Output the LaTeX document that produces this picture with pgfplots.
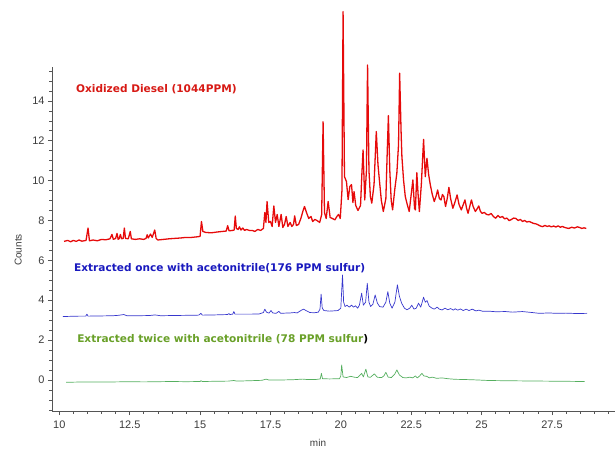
\documentclass[border=0pt]{standalone}
\usepackage{pgfplots}
\pgfplotsset{compat=1.18}
\usepackage{fontspec}
\setmainfont{Liberation Sans}
\newfontfamily\annfont{DejaVu Sans}

\definecolor{cred}{RGB}{230,10,10}
\definecolor{cblue}{RGB}{55,55,205}
\definecolor{cgreen}{RGB}{85,175,95}
\definecolor{tred}{RGB}{215,25,20}
\definecolor{tblue}{RGB}{25,25,190}
\definecolor{tgreen}{RGB}{105,160,40}
\definecolor{axgray}{RGB}{85,85,85}
\definecolor{labgray}{RGB}{60,60,60}

\begin{document}
\begin{tikzpicture}
\path[use as bounding box] (-52bp,-40bp) rectangle (564bp,411bp);
\begin{axis}[
  scale only axis, width=563bp, height=344bp,
  anchor=south west, at={(0,0)},
  xmin=9.74, xmax=29.74, ymin=-1.56, ymax=15.7,
  clip=false,
  axis x line=bottom, axis y line=left,
  axis line style={-, axgray, line width=0.8pt},
  tick align=outside,
  major tick length=4bp, minor tick length=2.5bp,
  every tick/.style={axgray, line width=0.6pt},
  xtick={10,12.5,15,17.5,20,22.5,25,27.5},
  xticklabels={10,12.5,15,17.5,20,22.5,25,27.5},
  minor xtick={10,10.5,...,29.5},
  ytick={0,2,...,14},
  minor ytick={-1.5,-1,...,15.5},
  /pgf/number format/assume math mode=true,
  tick label style={font=\fontsize{11}{13}\selectfont, text=labgray},
  xticklabel style={yshift=-2bp},
  ylabel={Counts}, xlabel={min},
  label style={font=\fontsize{10}{12}\selectfont, text=labgray},
  ylabel style={at={(axis description cs:-0.060,0.468)}, anchor=center},
  xlabel style={at={(axis description cs:0.4725,-0.093)}, anchor=center},
]
% oxidized diesel
\addplot[cred, line width=1.3pt, line join=round] coordinates {
(10.17,6.95) (10.3,7.0) (10.4,6.93) (10.5,7.0) (10.6,6.95) (10.7,7.02) (10.8,6.96)
(10.95,7.0) (11.02,7.62) (11.07,6.98) (11.2,7.02) (11.35,6.98) (11.5,7.05) (11.65,7.03)
(11.8,7.08) (11.87,7.3) (11.92,7.05) (12.0,7.1) (12.05,7.35) (12.09,7.05) (12.13,7.1)
(12.17,7.3) (12.21,7.08) (12.27,7.1) (12.31,7.62) (12.35,7.1) (12.45,7.08) (12.52,7.45)
(12.56,7.08) (12.7,7.05) (12.85,7.08) (13.0,7.05) (13.08,7.1) (13.12,7.28) (13.16,7.12)
(13.24,7.32) (13.3,7.15) (13.39,7.52) (13.44,7.1) (13.5,7.02) (13.7,7.05) (13.9,7.08)
(14.1,7.1) (14.3,7.12) (14.5,7.15) (14.7,7.15) (14.9,7.18) (15.0,7.2) (15.05,7.95)
(15.1,7.45) (15.2,7.4) (15.4,7.38) (15.6,7.42) (15.8,7.45) (15.93,7.47) (15.98,7.74)
(16.03,7.48) (16.15,7.5) (16.21,7.52) (16.25,8.22) (16.29,7.6) (16.35,7.55) (16.4,7.68)
(16.45,7.52) (16.52,7.62) (16.58,7.5) (16.65,7.55) (16.75,7.5) (16.85,7.5) (16.95,7.45)
(17.05,7.55) (17.15,7.5) (17.25,7.6) (17.3,8.4) (17.34,7.9) (17.38,8.95) (17.44,7.9)
(17.5,7.95) (17.56,7.7) (17.62,8.73) (17.68,7.9) (17.74,8.3) (17.8,7.7) (17.88,8.3)
(17.94,7.65) (18.0,7.8) (18.06,8.2) (18.12,7.7) (18.2,7.9) (18.26,7.7) (18.32,7.8)
(18.36,8.23) (18.42,7.75) (18.5,7.8) (18.58,8.1) (18.66,8.5) (18.71,8.7) (18.78,8.4)
(18.86,8.1) (18.94,8.2) (19.0,7.95) (19.08,8.05) (19.15,8.0) (19.25,7.9) (19.32,8.3)
(19.37,12.95) (19.42,8.4) (19.48,8.1) (19.55,8.95) (19.62,8.15) (19.7,8.1) (19.79,8.03)
(19.86,8.2) (19.92,8.3) (19.98,8.1) (20.04,9.5) (20.08,18.48) (20.13,10.2) (20.2,9.95)
(20.26,9.05) (20.32,9.7) (20.38,9.8) (20.43,8.9) (20.47,9.45) (20.53,8.75) (20.61,8.5)
(20.7,8.75) (20.75,10.4) (20.79,11.54) (20.85,9.03) (20.91,10.5) (20.95,15.8) (21.0,10.5)
(21.05,9.2) (21.1,8.87) (21.18,9.8) (21.26,12.46) (21.32,10.8) (21.37,10.03) (21.44,9.0)
(21.51,8.45) (21.6,9.1) (21.65,11.5) (21.69,13.26) (21.74,10.5) (21.79,9.0) (21.84,8.53)
(21.92,9.6) (21.99,10.37) (22.05,11.8) (22.09,15.39) (22.14,12.5) (22.17,11.2) (22.23,10.0)
(22.29,9.2) (22.36,8.8) (22.43,8.45) (22.5,9.3) (22.56,10.03) (22.62,8.6) (22.65,8.53)
(22.7,10.4) (22.75,9.2) (22.79,8.45) (22.86,9.8) (22.94,12.07) (23.0,10.2) (23.06,11.12)
(23.12,10.3) (23.18,9.78) (23.25,9.3) (23.32,8.95) (23.38,9.2) (23.44,9.53) (23.5,9.1)
(23.56,9.03) (23.61,9.3) (23.66,9.2) (23.72,8.7) (23.78,9.1) (23.84,9.66) (23.9,9.1)
(23.98,8.61) (24.05,8.9) (24.13,9.28) (24.2,8.8) (24.28,8.53) (24.35,8.8) (24.41,9.03)
(24.47,8.6) (24.52,8.36) (24.58,8.7) (24.64,9.03) (24.7,8.7) (24.78,8.45) (24.85,8.6)
(24.9,8.73) (24.96,8.45) (25.02,8.36) (25.1,8.4) (25.18,8.3) (25.26,8.28) (25.34,8.35)
(25.42,8.2) (25.5,8.11) (25.58,8.25) (25.66,8.15) (25.74,8.2) (25.82,8.08) (25.9,8.12)
(25.98,7.99) (26.06,8.05) (26.14,8.12) (26.22,8.1) (26.3,8.0) (26.38,8.05) (26.45,7.95)
(26.53,8.0) (26.61,7.92) (26.69,7.95) (26.77,7.9) (26.85,7.85) (26.93,7.83) (27.01,7.78)
(27.09,7.72) (27.17,7.69) (27.25,7.75) (27.33,7.7) (27.4,7.73) (27.48,7.68) (27.56,7.72)
(27.64,7.67) (27.72,7.73) (27.8,7.66) (27.87,7.7) (27.95,7.65) (28.03,7.62) (28.1,7.6)
(28.2,7.66) (28.3,7.62) (28.4,7.68) (28.48,7.65) (28.56,7.6) (28.64,7.63) (28.72,7.6)
};
% extracted once
\addplot[cblue, line width=0.7pt, line join=round] coordinates {
(10.13,3.18) (10.4,3.19) (10.7,3.2) (10.94,3.2) (10.98,3.3) (11.02,3.2) (11.5,3.21)
(11.9,3.22) (12.1,3.24) (12.29,3.28) (12.4,3.22) (12.8,3.22) (13.2,3.23) (13.4,3.26)
(13.6,3.22) (14.0,3.23) (14.5,3.24) (14.95,3.25) (15.03,3.34) (15.08,3.25) (15.5,3.26)
(15.98,3.28) (16.02,3.33) (16.06,3.28) (16.16,3.3) (16.2,3.43) (16.24,3.3) (16.5,3.3)
(16.8,3.3) (17.1,3.31) (17.25,3.38) (17.3,3.55) (17.36,3.4) (17.45,3.35) (17.52,3.48)
(17.58,3.36) (17.7,3.34) (17.8,3.44) (17.86,3.34) (18.0,3.35) (18.2,3.36) (18.35,3.38)
(18.45,3.36) (18.6,3.5) (18.68,3.55) (18.76,3.48) (18.9,3.38) (19.07,3.37) (19.2,3.4)
(19.26,3.55) (19.3,4.3) (19.34,3.6) (19.4,3.48) (19.6,3.45) (19.9,3.48) (20.0,3.6)
(20.06,5.27) (20.1,3.9) (20.15,3.68) (20.22,3.75) (20.3,3.65) (20.38,3.75) (20.45,3.65)
(20.52,3.72) (20.6,3.6) (20.66,3.75) (20.74,4.35) (20.8,3.75) (20.88,3.9) (20.94,4.85)
(21.0,3.9) (21.06,3.68) (21.14,3.8) (21.22,4.26) (21.3,3.85) (21.38,3.68) (21.5,3.65)
(21.6,3.9) (21.67,4.43) (21.74,3.85) (21.82,3.6) (21.92,3.9) (22.01,4.77) (22.08,4.2)
(22.16,3.85) (22.26,3.6) (22.35,3.52) (22.45,3.6) (22.52,3.75) (22.6,3.55) (22.68,3.6)
(22.76,3.85) (22.84,3.65) (22.94,4.15) (23.0,3.9) (23.06,3.98) (23.14,3.7) (23.24,3.6)
(23.32,3.55) (23.42,3.65) (23.5,3.55) (23.6,3.51) (23.7,3.6) (23.8,3.52) (23.9,3.58)
(24.0,3.5) (24.06,3.57) (24.15,3.5) (24.25,3.56) (24.35,3.48) (24.45,3.55) (24.55,3.48)
(24.67,3.55) (24.8,3.46) (24.9,3.5) (25.05,3.44) (25.26,3.45) (25.5,3.42) (25.85,3.43)
(26.1,3.4) (26.45,3.43) (26.8,3.38) (27.05,3.34) (27.4,3.36) (27.64,3.34) (28.0,3.35)
(28.4,3.33) (28.75,3.34)
};
% extracted twice
\addplot[cgreen, line width=0.7pt, line join=round] coordinates {
(10.24,-0.12) (10.6,-0.11) (11.0,-0.1) (11.5,-0.11) (12.0,-0.1) (12.5,-0.09) (13.0,-0.1)
(13.5,-0.09) (14.0,-0.08) (14.5,-0.09) (15.0,-0.08) (15.03,-0.04) (15.08,-0.08) (15.5,-0.07)
(16.0,-0.06) (16.2,-0.03) (16.3,-0.06) (16.8,-0.04) (17.2,-0.02) (17.35,0.04) (17.45,-0.01)
(17.7,0.0) (18.0,0.0) (18.3,0.01) (18.65,0.04) (18.8,0.02) (19.1,0.02) (19.27,0.05)
(19.31,0.33) (19.35,0.06) (19.6,0.05) (19.95,0.06) (20.0,0.2) (20.03,0.75) (20.08,0.15)
(20.2,0.12) (20.35,0.18) (20.5,0.13) (20.6,0.12) (20.74,0.33) (20.8,0.15) (20.89,0.54)
(20.96,0.15) (21.05,0.13) (21.19,0.3) (21.3,0.13) (21.45,0.12) (21.53,0.2) (21.6,0.38)
(21.68,0.14) (21.8,0.12) (21.92,0.3) (21.99,0.5) (22.08,0.25) (22.2,0.12) (22.32,0.1)
(22.45,0.14) (22.55,0.1) (22.65,0.2) (22.72,0.1) (22.8,0.2) (22.88,0.33) (22.95,0.2)
(23.05,0.18) (23.15,0.1) (23.25,0.14) (23.4,0.08) (23.6,0.1) (23.8,0.06) (24.06,0.03)
(24.4,0.02) (24.8,0.0) (25.26,-0.03) (25.8,-0.04) (26.45,-0.05) (27.2,-0.06) (28.0,-0.07)
(28.66,-0.08)
};
\node[anchor=west, inner sep=0pt, text=tred, font=\annfont\bfseries\fontsize{10.6}{12}\selectfont]
  at (axis cs:10.59,14.6) {Oxidized Diesel (1044PPM)};
\node[anchor=west, inner sep=0pt, text=tblue, font=\annfont\bfseries\fontsize{10.6}{12}\selectfont]
  at (axis cs:10.52,5.62) {Extracted once with acetonitrile(176 PPM sulfur)};
\node[anchor=west, inner sep=0pt, text=tgreen, font=\annfont\bfseries\fontsize{10.6}{12}\selectfont]
  at (axis cs:10.63,2.06) {Extracted twice with acetonitrile (78 PPM sulfur\textcolor{black}{)}};
\end{axis}
\end{tikzpicture}
\end{document}
